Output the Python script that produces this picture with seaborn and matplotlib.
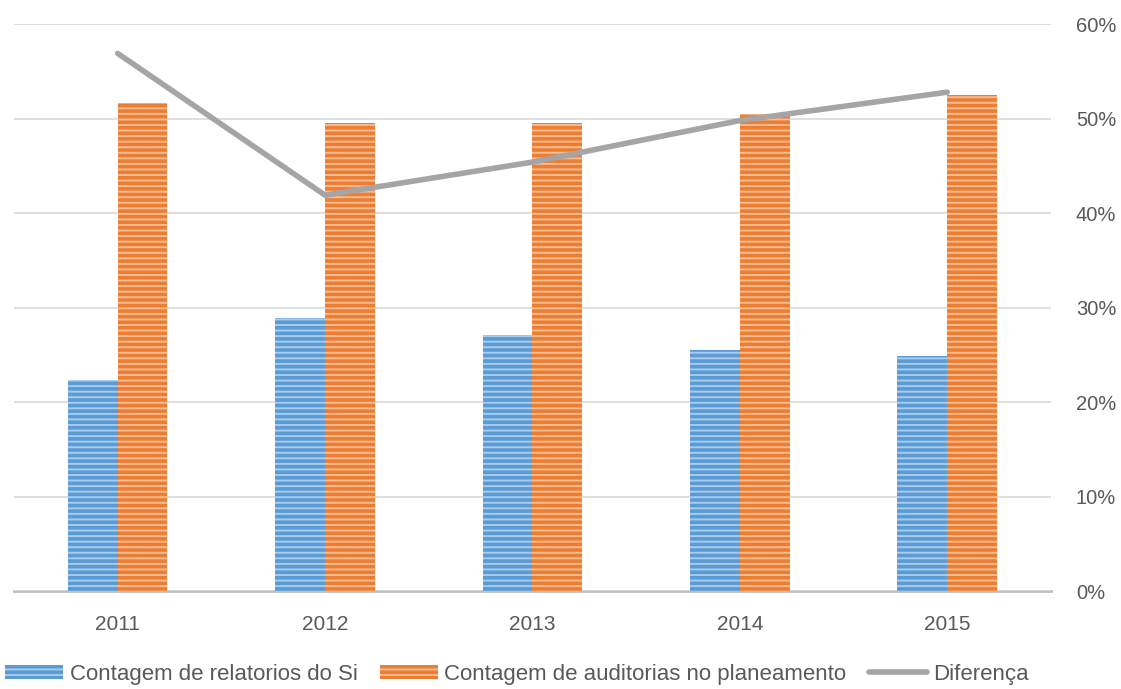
import matplotlib
matplotlib.use("Agg")
import matplotlib.pyplot as plt
import matplotlib.patches as mpatches
import matplotlib.lines as mlines
from matplotlib.ticker import PercentFormatter
import numpy as np
import pandas as pd
import seaborn as sns

years = ["2011", "2012", "2013", "2014", "2015"]
relatorios_si = [0.223, 0.289, 0.271, 0.255, 0.249]
auditorias_planeamento = [0.517, 0.495, 0.495, 0.505, 0.525]
diferenca = [0.569, 0.419, 0.454, 0.498, 0.528]
y_ticks = [0.0, 0.1, 0.2, 0.3, 0.4, 0.5, 0.6]

label_rel = "Contagem de relatorios do Si"
label_aud = "Contagem de auditorias no planeamento"
label_dif = "Diferença"

blue, blue_stripe = "#5B9BD5", "#A9CBEC"
orange, orange_stripe = "#ED7D31", "#F6BC94"
gray = "#A5A5A5"
text_gray = "#595959"

sns.set_theme(style="white")
plt.rcParams["font.family"] = ["Liberation Sans", "DejaVu Sans"]
plt.rcParams["hatch.linewidth"] = 1.4

df = pd.DataFrame({
    "Ano": years * 2,
    "Valor": relatorios_si + auditorias_planeamento,
    "Serie": [label_rel] * len(years) + [label_aud] * len(years),
})

fig = plt.figure(figsize=(11.21, 6.89), dpi=100)
ax = fig.add_axes([0.0125, 0.142, 0.925, 0.823])

sns.barplot(data=df, x="Ano", y="Valor", hue="Serie", order=years,
            hue_order=[label_rel, label_aud], palette=[blue, orange],
            width=0.48, gap=0, linewidth=0, saturation=1, ax=ax, legend=False)

# horizontal light stripes over each bar
stripes = {0: blue_stripe, 1: orange_stripe}
for i, container in enumerate(ax.containers):
    for bar in container:
        bar.set_hatch("---")
        bar.set_edgecolor(stripes[i])
        bar.set_linewidth(0)

sns.lineplot(x=np.arange(len(years)), y=diferenca, color=gray, linewidth=4,
             ax=ax, legend=False)

ax.set_xlim(-0.5, len(years) - 0.5)
ax.set_ylim(0, 0.6)
ax.set_yticks(y_ticks)
ax.yaxis.set_major_formatter(PercentFormatter(1.0, decimals=0))
ax.yaxis.tick_right()
ax.grid(axis="y", color="#D9D9D9", linewidth=1.2)
ax.set_axisbelow(True)
for side in ["top", "left", "right"]:
    ax.spines[side].set_visible(False)
ax.spines["bottom"].set_color("#BFBFBF")
ax.spines["bottom"].set_linewidth(2)
ax.spines["bottom"].set_zorder(0.5)
ax.tick_params(axis="both", length=0, labelsize=14.5, labelcolor=text_gray)
ax.tick_params(axis="x", labelsize=15, pad=17)
ax.tick_params(axis="y", pad=18)
ax.set_xlabel("")
ax.set_ylabel("")

handles = [
    mpatches.Patch(facecolor=blue, edgecolor=blue_stripe, hatch="---", linewidth=0, label=label_rel),
    mpatches.Patch(facecolor=orange, edgecolor=orange_stripe, hatch="---", linewidth=0, label=label_aud),
    mlines.Line2D([], [], color=gray, linewidth=4, label=label_dif),
]
fig.legend(handles=handles, loc="lower left", bbox_to_anchor=(-0.007, -0.013), ncol=3,
           frameon=False, fontsize=16, labelcolor=text_gray, handlelength=2.6,
           handleheight=0.6, handletextpad=0.3, columnspacing=1.0, borderaxespad=0.2)

fig.savefig("out.png", dpi=100)
